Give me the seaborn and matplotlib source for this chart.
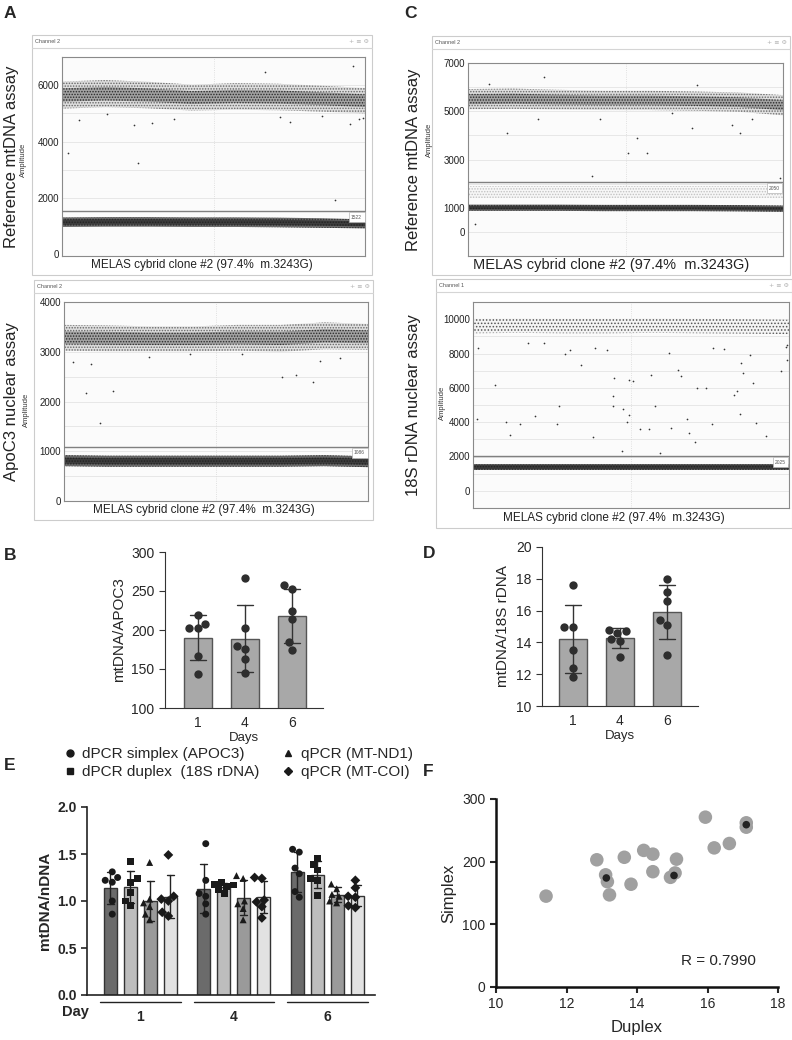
import numpy as np
import pandas as pd
import matplotlib
matplotlib.use('Agg')
import matplotlib.pyplot as plt
import seaborn as sns
from matplotlib.patches import Rectangle
from matplotlib.lines import Line2D

# ---------------- data ----------------
# droplet plots: band centre / half width read at these event numbers
event_knots = [0, 2000, 4000, 6000, 8000, 10000, 12000, 14000]

a1_pos_mid = [5650, 5700, 5650, 5560, 5600, 5580, 5520, 5450]
a1_pos_half = [480, 480, 470, 460, 470, 470, 460, 450]
a1_neg_mid = [1140, 1150, 1150, 1140, 1140, 1130, 1110, 1080]
a1_neg_half = [170, 170, 170, 170, 170, 170, 170, 160]
a1_threshold = 1522
a1_out_event = [277, 3508, 9385, 13431, 12615, 800, 13923, 13300, 2077, 3308, 4154, 5154, 10077, 10538, 12000, 13700]
a1_out_amp = [3585, 3253, 6471, 6684, 1928, 4768, 4850, 4614, 4970, 4580, 4674, 4792, 4887, 4697, 4910, 4790]

a2_pos_mid = [3280, 3270, 3260, 3260, 3280, 3270, 3320, 3300]
a2_pos_half = [260, 260, 250, 250, 260, 270, 270, 260]
a2_neg_mid = [810, 800, 800, 800, 800, 800, 810, 790]
a2_neg_half = [110, 110, 110, 110, 110, 110, 110, 110]
a2_threshold = 1086
a2_out_event = [1262, 1000, 2277, 1662, 10031, 10677, 11477, 11785, 430, 5800, 3900, 8200, 12700]
a2_out_amp = [2745, 2179, 2213, 1565, 2496, 2530, 2395, 2820, 2800, 2950, 2900, 2960, 2870]

c1_pos_mid = [5500, 5520, 5480, 5450, 5450, 5420, 5380, 5250]
c1_pos_half = [420, 420, 410, 400, 400, 400, 400, 420]
c1_rain_mid = [1650, 1650, 1650, 1650, 1650, 1650, 1650, 1650]
c1_rain_half = [250, 250, 250, 250, 250, 250, 250, 250]
c1_neg_mid = [1000, 1000, 1000, 990, 990, 990, 980, 960]
c1_neg_half = [130, 130, 130, 130, 130, 130, 130, 130]
c1_threshold = 2050
c1_out_event = [3385, 935, 5865, 1737, 3126, 7500, 7128, 7943, 5493, 13880, 297, 10170, 12100, 9946, 11729, 12620, 9056]
c1_out_amp = [6410, 6130, 4680, 4080, 4680, 3910, 3270, 3270, 2330, 2240, 320, 6090, 4100, 4300, 4420, 4680, 4940]

c2_pos_mid = [9600, 9620, 9600, 9600, 9620, 9600, 9580, 9550]
c2_pos_half = [420, 420, 420, 420, 420, 420, 420, 420]
c2_neg_mid = [1390, 1390, 1390, 1390, 1390, 1390, 1390, 1390]
c2_neg_half = [170, 170, 170, 170, 170, 170, 170, 170]
c2_threshold = 2025
c2_out_event = [206, 177, 958, 1459, 1621, 2093, 2417, 2726, 3154, 3743, 3831, 4082, 4303, 4789,
                5335, 5408, 5924, 6219, 6219, 6248, 6631, 6587, 6808, 6926, 6926, 7103, 7397, 7811,
                7870, 8061, 8282, 8695, 8754, 9093, 9196, 9491, 9550, 9830, 9903, 10316, 10596,
                10640, 11112, 11554, 11702, 11820, 11893, 11967, 12291, 12409, 12527, 12999,
                13662, 13853, 13912, 13912]
c2_out_amp = [8320, 4200, 6190, 4020, 3250, 3870, 8610, 4350, 8610, 3870, 4930, 7990, 8220, 7350,
              3130, 8320, 8180, 4930, 5550, 6580, 4740, 2320, 4020, 6440, 4390, 6380, 3580, 3580,
              6770, 4930, 2220, 8030, 3680, 7060, 6670, 4160, 3380, 2840, 6000, 6000, 3870,
              8320, 8260, 5610, 5800, 4450, 7450, 6870, 7930, 6290, 3970, 3190,
              6960, 8380, 7600, 8510]

# panel B / D
days = ['1', '4', '6']
b_day1 = [219, 208, 202, 202, 167, 144]
b_day4 = [267, 203, 180, 176, 163, 145]
b_day6 = [258, 253, 225, 214, 184, 174]
d_day1 = [17.6, 15.0, 15.0, 13.5, 12.4, 11.8]
d_day4 = [14.8, 14.7, 14.6, 14.2, 14.1, 13.1]
d_day6 = [18.0, 17.2, 16.6, 15.4, 15.1, 13.2]

# panel E
methods = ['dPCR simplex (APOC3)', 'dPCR duplex  (18S rDNA)', 'qPCR (MT-ND1)', 'qPCR (MT-COI)']
method_markers = ['o', 's', '^', 'D']
method_colors = ['#6b6b6b', '#bdbdbd', '#9a9a9a', '#e2e2e2']
e_simplex = [[1.31, 1.25, 1.22, 1.20, 1.00, 0.86],
             [1.61, 1.22, 1.08, 1.05, 0.97, 0.86],
             [1.55, 1.52, 1.35, 1.29, 1.10, 1.04]]
e_duplex = [[1.42, 1.24, 1.20, 1.09, 1.00, 0.95],
            [1.20, 1.18, 1.17, 1.15, 1.12, 1.08],
            [1.45, 1.39, 1.33, 1.24, 1.22, 1.06]]
e_nd1 = [[1.41, 1.02, 0.98, 0.94, 0.86, 0.80],
         [1.27, 1.24, 1.00, 0.97, 0.92, 0.80],
         [1.18, 1.13, 1.07, 1.05, 1.00, 0.98]]
e_coi = [[1.49, 1.05, 1.02, 1.00, 0.88, 0.84],
         [1.25, 1.24, 1.01, 0.99, 0.94, 0.82],
         [1.22, 1.14, 1.05, 1.04, 0.95, 0.93]]

# panel F
f_duplex = [11.42, 12.86, 13.11, 13.16, 13.22, 13.64, 13.83, 14.19, 14.45, 14.45,
            14.95, 15.08, 15.12, 15.94, 16.19, 16.62, 17.10, 17.10]
f_simplex = [145, 203, 179, 168, 147, 207, 164, 218, 212, 184,
             175, 182, 204, 271, 222, 229, 262, 255]
f_dark_duplex = [13.13, 15.05, 17.10]
f_dark_simplex = [174, 178, 259]

# ---------------- figure ----------------
sns.set_style('ticks')
plt.rcParams['font.family'] = ['Liberation Sans', 'DejaVu Sans']
plt.rcParams['hatch.linewidth'] = 0.7

W, H = 792, 1040
fig = plt.figure(figsize=(W / 100, H / 100), dpi=100)


def px_rect(x0, y0, x1, y1):
    return [x0 / W, 1 - y1 / H, (x1 - x0) / W, (y1 - y0) / H]


def ftext(x, y, s, **kw):
    return fig.text(x / W, 1 - y / H, s, **kw)


def band(ax, mid, half, face, hatch_color, hatch, scale=1.0):
    mid = np.array(mid)
    half = np.array(half) * scale
    ax.fill_between(event_knots, mid - half, mid + half, facecolor=face,
                    edgecolor=hatch_color, hatch=hatch, linewidth=0, zorder=2)


def droplet_panel(win, box, channel, assay, assay_x, amp_xy, ylim, yticks, grid,
                  pos_mid, pos_half, neg_mid, neg_half, threshold, out_event, out_amp,
                  melas_size=8.5, pos_sparse=False, rain_mid=None, rain_half=None):
    x0, y0, x1, y1 = win
    fig.add_artist(Rectangle((x0 / W, 1 - y1 / H), (x1 - x0) / W, (y1 - y0) / H,
                             transform=fig.transFigure, facecolor='white',
                             edgecolor='#cccccc', lw=0.8, zorder=0))
    fig.add_artist(Line2D([x0 / W, x1 / W], [1 - (y0 + 13) / H] * 2, color='#d5d5d5', lw=0.8))
    ftext(x0 + 3, y0 + 6.5, channel, fontsize=4, color='#555555', va='center')
    ftext(x1 - 3, y0 + 6.5, '+ \u2261 \u2699', fontsize=4.5, color='#b0b0b0', va='center',
          ha='right', family=['DejaVu Sans'])

    ax = fig.add_axes(px_rect(*box))
    ax.set_facecolor('#fbfbfb')
    for sp in ax.spines.values():
        sp.set_color('#8a8a8a')
        sp.set_linewidth(0.8)
    ax.set_xlim(0, 14000)
    ax.set_ylim(ylim)
    ax.set_yticks(yticks)
    ax.set_xticks([])
    ax.tick_params(axis='y', length=0, labelsize=7, pad=2, labelcolor='#222222')
    for g in grid:
        ax.axhline(g, color='#e4e4e4', lw=0.6, zorder=1)
    ax.axvline(7000, color='#d8d8d8', lw=0.6, ls=':', zorder=1)

    if pos_sparse:
        band(ax, pos_mid, pos_half, '#f4f4f4', '#555555', '.....')
    else:
        band(ax, pos_mid, pos_half, '#dedede', '#666666', '......')
        band(ax, pos_mid, pos_half, '#a2a2a2', '#2a2a2a', '......', scale=0.5)
    if rain_mid is not None:
        band(ax, rain_mid, rain_half, '#f7f7f7', '#c2c2c2', '......')
    band(ax, neg_mid, neg_half, '#6a6a6a', '#333333', '......')
    band(ax, neg_mid, neg_half, '#3c3c3c', '#222222', '......', scale=0.55)

    ax.scatter(out_event, out_amp, s=1.5, color='#333333', linewidths=0, zorder=3)
    ax.axhline(threshold, color='#808080', lw=1.0, zorder=4)
    ax.annotate(str(threshold), xy=(0.995, threshold), xycoords=ax.get_yaxis_transform(),
                xytext=(-1, -2.5), textcoords='offset points', ha='right', va='top',
                fontsize=3.5, color='#555555', zorder=5,
                bbox=dict(boxstyle='square,pad=0.5', fc='white', ec='#b5b5b5', lw=0.5))

    ftext((x0 + x1) / 2, y1 - 10, 'MELAS cybrid clone #2 (97.4%  m.3243G)',
          fontsize=melas_size, ha='center', va='center', color='#222222')
    ftext(amp_xy[0], amp_xy[1], 'Amplitude', fontsize=5.5, rotation=90,
          ha='center', va='center', color='#333333')
    ftext(assay_x, (box[1] + box[3]) / 2, assay, fontsize=12, rotation=90,
          ha='center', va='center', color='#222222')
    return ax


droplet_panel((32, 35, 372, 275), (62, 57, 365, 256), 'Channel 2', 'Reference mtDNA assay', 12,
              (23, 160), (-60, 7000), [0, 2000, 4000, 6000], range(1000, 7000, 1000),
              a1_pos_mid, a1_pos_half, a1_neg_mid, a1_neg_half, a1_threshold,
              a1_out_event, a1_out_amp)
droplet_panel((34, 280, 373, 520), (64, 302, 368, 501), 'Channel 2', 'ApoC3 nuclear assay', 12,
              (26, 410), (0, 4000), [0, 1000, 2000, 3000, 4000], range(500, 4000, 500),
              a2_pos_mid, a2_pos_half, a2_neg_mid, a2_neg_half, a2_threshold,
              a2_out_event, a2_out_amp)
droplet_panel((432, 36, 790, 275), (468, 63, 783, 256), 'Channel 2', 'Reference mtDNA assay', 413,
              (429, 140), (-1000, 7000), [0, 1000, 3000, 5000, 7000], range(0, 7000, 1000),
              c1_pos_mid, c1_pos_half, c1_neg_mid, c1_neg_half, c1_threshold,
              c1_out_event, c1_out_amp, melas_size=10.5,
              rain_mid=c1_rain_mid, rain_half=c1_rain_half)
droplet_panel((436, 279, 792, 528), (473, 302, 789, 508), 'Channel 1', '18S rDNA nuclear assay', 413,
              (442, 403), (-1000, 11000), [0, 2000, 4000, 6000, 8000, 10000], range(0, 11000, 1000),
              c2_pos_mid, c2_pos_half, c2_neg_mid, c2_neg_half, c2_threshold,
              c2_out_event, c2_out_amp, pos_sparse=True)


# ---------------- B and D ----------------
def day_bars(box, values, ylim, yticks, ylabel, xlim):
    df = pd.DataFrame({'day': np.repeat(days, [len(v) for v in values]),
                       'ratio': np.concatenate(values)})
    ax = fig.add_axes(px_rect(*box))
    sns.barplot(data=df, x='day', y='ratio', order=days, errorbar='sd', color='#a8a8a8',
                edgecolor='#555555', linewidth=1, width=0.6, capsize=0.33,
                err_kws={'color': '#333333', 'linewidth': 1}, ax=ax)
    sns.swarmplot(data=df, x='day', y='ratio', order=days, color='#2e2e2e', size=6, ax=ax)
    ax.set_ylim(ylim)
    ax.set_xlim(xlim)
    ax.set_yticks(yticks)
    ax.set_xlabel('Days', fontsize=9.5, labelpad=1)
    ax.set_ylabel(ylabel, fontsize=11, labelpad=4)
    ax.tick_params(axis='y', labelsize=10, length=4, color='#333333')
    ax.tick_params(axis='x', labelsize=10, length=0, pad=6)
    sns.despine(ax=ax)
    for sp in ax.spines.values():
        sp.set_color('#333333')
    return ax


day_bars((165, 552, 323, 708), [b_day1, b_day4, b_day6], (100, 300), [100, 150, 200, 250, 300],
         'mtDNA/APOC3', (-0.7, 2.66))
day_bars((542, 547, 698, 706), [d_day1, d_day4, d_day6], (10, 20), [10, 12, 14, 16, 18, 20],
         'mtDNA/18S rDNA', (-0.66, 2.66))

# ---------------- E ----------------
rows = []
for m, series in zip(methods, [e_simplex, e_duplex, e_nd1, e_coi]):
    for d, vals in zip(days, series):
        for v in vals:
            rows.append((d, m, v))
df_e = pd.DataFrame(rows, columns=['day', 'method', 'ratio'])

axE = fig.add_axes(px_rect(87, 807, 375, 995))
sns.barplot(data=df_e, x='day', y='ratio', hue='method', order=days, hue_order=methods,
            palette=method_colors, errorbar='sd', width=0.86, gap=0.35, capsize=0.3,
            edgecolor='#333333', linewidth=1, err_kws={'color': '#222222', 'linewidth': 1},
            legend=False, ax=axE)
for m, mk in zip(methods, method_markers):
    sns.swarmplot(data=df_e[df_e['method'] == m], x='day', y='ratio', hue='method',
                  order=days, hue_order=methods, palette=['#1a1a1a'] * 4, dodge=True,
                  marker=mk, size=5, legend=False, ax=axE)
axE.set_ylim(0, 2.0)
axE.set_xlim(-0.57, 2.51)
axE.set_yticks([0.0, 0.5, 1.0, 1.5, 2.0])
axE.set_yticklabels(['0.0', '0.5', '1.0', '1.5', '2.0'], fontweight='bold')
axE.set_xticks([0, 1, 2])
axE.set_xticklabels(days, fontweight='bold')
axE.tick_params(axis='y', labelsize=10, length=4, width=1.2)
axE.tick_params(axis='x', labelsize=10, length=0, pad=11)
axE.set_xlabel('')
axE.set_ylabel('mtDNA/nDNA', fontsize=11, fontweight='bold', labelpad=4)
sns.despine(ax=axE)
for sp in axE.spines.values():
    sp.set_linewidth(1.2)
    sp.set_color('#222222')
for i in range(3):
    axE.plot([i - 0.43, i + 0.43], [-0.037, -0.037], transform=axE.get_xaxis_transform(),
             color='#222222', lw=1, clip_on=False)
ftext(75, 1012, 'Day', fontsize=10.5, fontweight='bold', ha='center', va='center')

handles = [Line2D([], [], marker=mk, color='#1a1a1a', ls='none', markersize=ms)
           for mk, ms in zip(method_markers, [5, 5, 5, 4.2])]
fig.legend(handles, methods, loc='upper left', bbox_to_anchor=(56 / W, 1 - 741 / H),
           ncol=2, frameon=False, fontsize=11, handletextpad=0.3, columnspacing=1.4,
           labelspacing=0.25, handlelength=1.0, borderaxespad=0)

# ---------------- F ----------------
axF = fig.add_axes(px_rect(496, 799, 778, 987))
sns.scatterplot(x=f_duplex, y=f_simplex, color='#a0a0a0', s=95, edgecolor='none', ax=axF)
sns.scatterplot(x=f_dark_duplex, y=f_dark_simplex, color='#222222', s=30, edgecolor='none', ax=axF)
axF.set_xlim(10, 18)
axF.set_ylim(0, 300)
axF.set_xticks([10, 12, 14, 16, 18])
axF.set_yticks([0, 100, 200, 300])
axF.tick_params(labelsize=10, length=4, width=1.5)
axF.set_xlabel('Duplex', fontsize=12, labelpad=6)
axF.set_ylabel('Simplex', fontsize=12, labelpad=4)
sns.despine(ax=axF)
for sp in axF.spines.values():
    sp.set_linewidth(1.8)
    sp.set_color('#111111')
axF.text(0.92, 0.14, 'R = 0.7990', transform=axF.transAxes, fontsize=11, ha='right', va='center')

# panel letters
for letter, x, y in [('A', 4, 13), ('C', 404, 13), ('B', 4, 555), ('D', 423, 554),
                     ('E', 4, 765), ('F', 423, 772)]:
    ftext(x, y, letter, fontsize=12.5, fontweight='bold', va='center')

fig.savefig('out.png', dpi=100)
